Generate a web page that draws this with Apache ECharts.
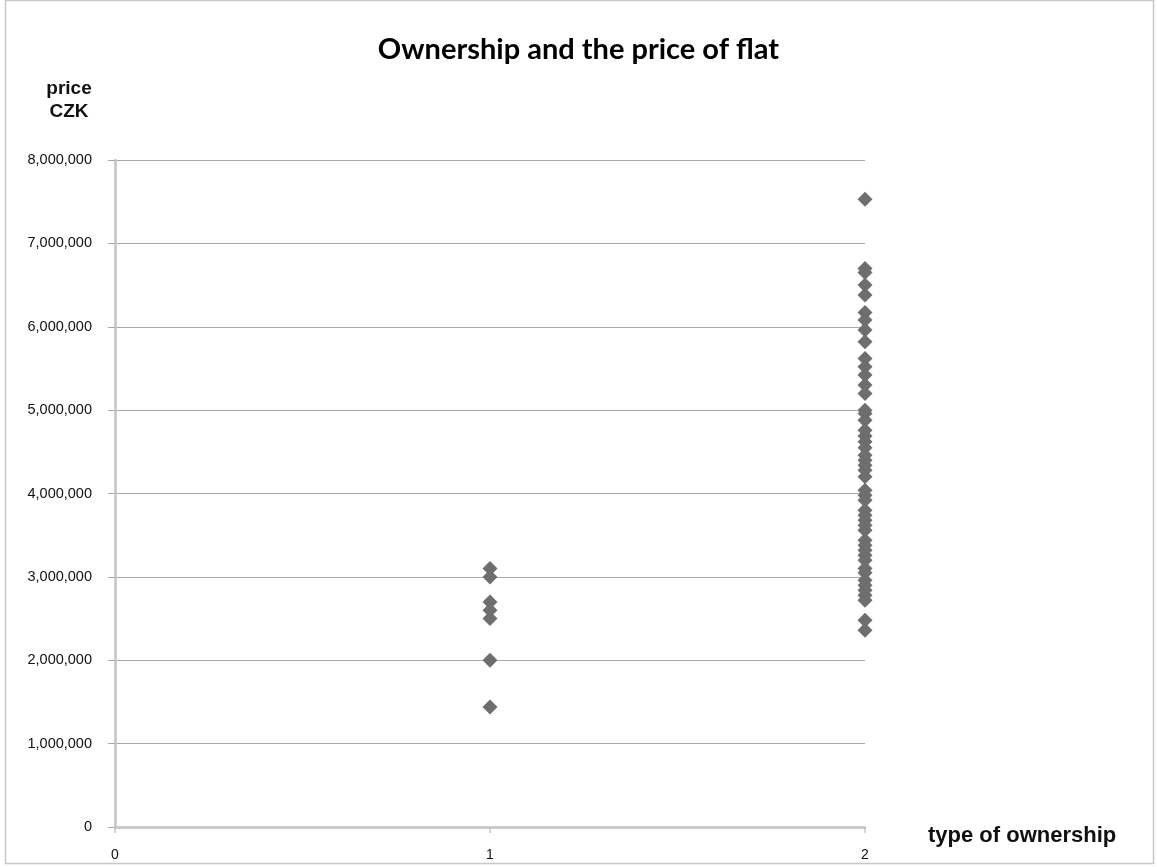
<!DOCTYPE html>
<html>
<head>
<meta charset="utf-8">
<script src="https://cdn.jsdelivr.net/npm/echarts@6/dist/echarts.min.js"></script>
<style>
  html, body { margin: 0; padding: 0; background: #ffffff; }
  #chart { width: 1157px; height: 867px; }
</style>
</head>
<body>
<div id="chart"></div>
<script>
// Ownership type 1: flat prices in CZK
const pricesType1 = [3100000, 3000000, 2700000, 2600000, 2500000, 2000000, 1440000];

// Ownership type 2: flat prices in CZK
const pricesType2 = [
  7530000, 6700000, 6650000, 6500000, 6380000, 6170000, 6080000, 5960000,
  5820000, 5620000, 5520000, 5420000, 5300000, 5200000, 5000000, 4960000,
  4880000, 4760000, 4690000, 4620000, 4550000, 4460000, 4400000, 4340000,
  4280000, 4200000, 4040000, 3980000, 3920000, 3800000, 3740000, 3680000,
  3620000, 3560000, 3440000, 3380000, 3320000, 3260000, 3200000, 3100000,
  3050000, 2960000, 2900000, 2840000, 2780000, 2720000, 2480000, 2360000
];

const ownershipTypes = [1, 2];
const xTicks = [0, 1, 2];
const yTicks = [0, 1000000, 2000000, 3000000, 4000000, 5000000, 6000000, 7000000, 8000000];

const points = [];
pricesType1.forEach(v => points.push([ownershipTypes[0], v]));
pricesType2.forEach(v => points.push([ownershipTypes[1], v]));

const chart = echarts.init(document.getElementById('chart'), null, { renderer: 'canvas' });

const axisGray = '#c4c4c4';
const gridGray = '#a8a8a8';

chart.setOption({
  backgroundColor: '#ffffff',
  animation: false,
  title: {
    text: 'Ownership and the price of flat',
    left: 'center',
    top: 30,
    textStyle: { fontFamily: 'Lato', fontWeight: 'bold', fontSize: 29, color: '#000000' }
  },
  graphic: [
    {
      type: 'rect',
      shape: { x: 5.5, y: 0.5, width: 1148, height: 863 },
      style: { fill: 'none', stroke: '#c8c8c8', lineWidth: 1.5 },
      silent: true
    },
    {
      type: 'text',
      x: 69, y: 77,
      style: {
        text: 'price\nCZK', align: 'center', verticalAlign: 'top', lineHeight: 23,
        font: 'bold 19px "Liberation Sans", Arial', fill: '#111111'
      }
    },
    {
      type: 'text',
      x: 928, y: 825,
      style: { text: 'type of ownership', verticalAlign: 'top', font: 'bold 22px "Liberation Sans", Arial', fill: '#111111' }
    }
  ],
  grid: { left: 115, right: 292, top: 160, bottom: 40, containLabel: false },
  xAxis: {
    type: 'value',
    min: xTicks[0],
    max: xTicks[xTicks.length - 1],
    interval: 1,
    axisLine: { show: true, onZero: false, lineStyle: { color: axisGray, width: 2.5 } },
    axisTick: { show: true, inside: false, length: 6, lineStyle: { color: axisGray, width: 1.5 } },
    axisLabel: { color: '#111111', fontFamily: '"Liberation Sans", Arial', fontSize: 14, margin: 21 },
    splitLine: { show: false }
  },
  yAxis: {
    type: 'value',
    min: yTicks[0],
    max: yTicks[yTicks.length - 1],
    interval: 1000000,
    axisLine: { show: true, lineStyle: { color: axisGray, width: 2.5 } },
    axisTick: { show: true, length: 7, lineStyle: { color: gridGray, width: 1 } },
    axisLabel: {
      color: '#111111', fontFamily: '"Liberation Sans", Arial', fontSize: 14.5, margin: 23,
      formatter: v => v.toLocaleString('en-US')
    },
    splitLine: { show: true, lineStyle: { color: gridGray, width: 1 } }
  },
  series: [{
    type: 'scatter',
    data: points,
    symbol: 'diamond',
    symbolSize: [15, 15],
    itemStyle: { color: '#6e6e6e', opacity: 1 },
    z: 5
  }]
});
</script>
</body>
</html>
